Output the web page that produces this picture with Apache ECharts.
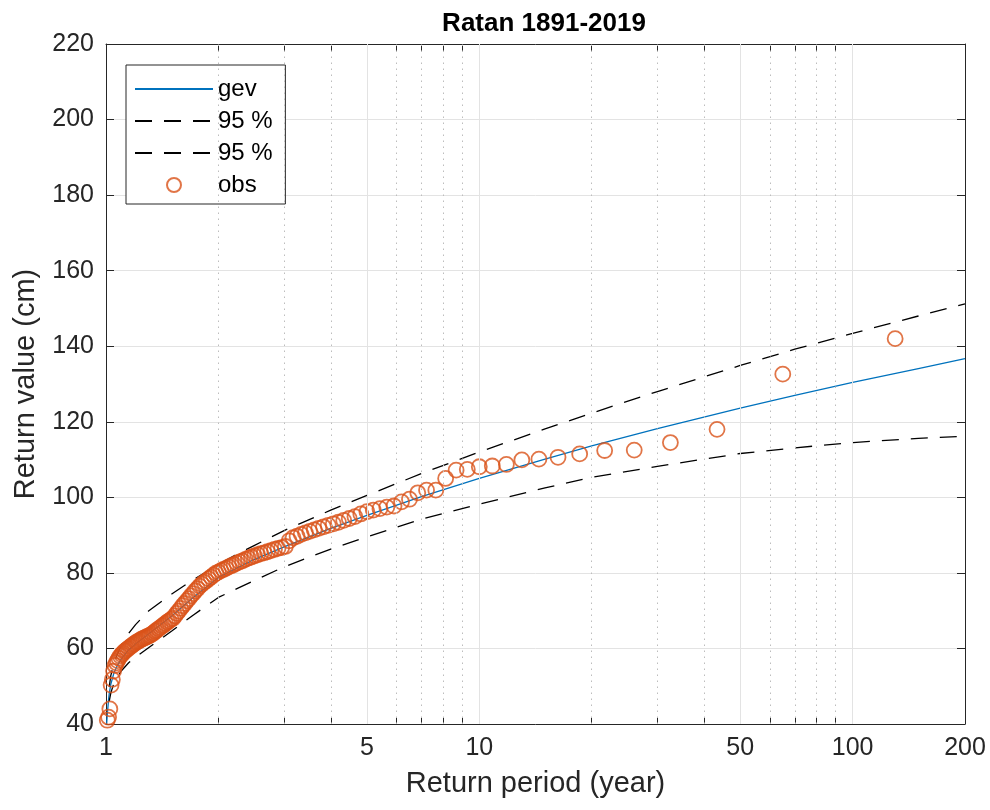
<!DOCTYPE html>
<html>
<head>
<meta charset="utf-8">
<title>Ratan 1891-2019</title>
<script src="https://cdn.jsdelivr.net/npm/echarts@6/dist/echarts.min.js"></script>
<style>
    html, body { margin: 0; padding: 0; background: #fff; }
    #box01 { width: 990px; height: 810px; }
</style>
</head>
<body>
<div id="box01"></div>
<script>
// ---- data ----
var xLabelTicks = [1, 5, 10, 50, 100, 200];
var xAllTicks = [1, 2, 3, 4, 5, 6, 7, 8, 9, 10, 20, 30, 40, 50, 60, 70, 80, 90, 100, 200];
var xMajorGrid = [5, 10, 50, 100];
var xMinorGrid = [2, 3, 4, 6, 7, 8, 9, 20, 30, 40, 60, 70, 80, 90];

// fitted gev curve and 95 % bounds (return period in years, value in cm)
var curvePeriod = [1.004, 1.008, 1.016, 1.02, 1.03, 1.05, 1.07, 1.1, 1.15, 1.2, 1.3, 1.5, 1.7, 2, 2.5, 3, 4, 5, 7, 10, 15, 20, 30, 50, 70, 100, 150, 200];
var gevValue   = [40.0, 42.5, 46.5, 48.0, 50.5, 53.5, 55.3, 57.3, 59.6, 61.2, 63.8, 68.6, 73.2, 78.8, 83.6, 86.9, 91.8, 95.2, 100.2, 105.0, 110.1, 113.6, 118.2, 123.6, 127.0, 130.4, 134.1, 136.7];
var bandPeriod = [1.02, 1.03, 1.05, 1.07, 1.1, 1.15, 1.2, 1.3, 1.5, 1.7, 2, 2.25, 2.5, 3, 4, 5, 7, 10, 15, 20, 30, 50, 70, 100, 150, 200];
var upperValue = [49.8, 52.8, 56.1, 58.3, 60.9, 64.0, 66.3, 69.9, 74.4, 78.0, 82.2, 85.0, 87.3, 91.2, 96.6, 100.5, 106.3, 112.0, 118.1, 122.3, 128.0, 134.9, 139.2, 143.4, 148.0, 151.2];
var lowerValue = [46.0, 48.2, 50.8, 52.3, 54.1, 56.2, 57.7, 60.2, 64.6, 68.6, 73.5, 75.9, 78.0, 81.6, 86.3, 89.5, 94.2, 98.2, 102.5, 105.3, 108.2, 111.6, 113.1, 114.5, 115.6, 116.2];

// observed annual maxima, largest first, with their plotting-position return periods
var obsPeriod = [130, 65, 43.333, 32.5, 26, 21.667, 18.571, 16.25, 14.444, 13, 11.818, 10.833, 10, 9.286, 8.667, 8.125, 7.647, 7.222, 6.842, 6.5,
    6.19, 5.909, 5.652, 5.417, 5.2, 5, 4.815, 4.643, 4.483, 4.333, 4.194, 4.063, 3.939, 3.824, 3.714, 3.611, 3.514, 3.421, 3.333, 3.25,
    3.171, 3.095, 3.023, 2.955, 2.889, 2.826, 2.766, 2.708, 2.653, 2.6, 2.549, 2.5, 2.453, 2.407, 2.364, 2.321, 2.281, 2.241, 2.203, 2.167,
    2.131, 2.097, 2.063, 2.031, 2, 1.97, 1.94, 1.912, 1.884, 1.857, 1.831, 1.806, 1.781, 1.757, 1.733, 1.711, 1.688, 1.667, 1.646, 1.625,
    1.605, 1.585, 1.566, 1.548, 1.529, 1.512, 1.494, 1.477, 1.461, 1.444, 1.429, 1.413, 1.398, 1.383, 1.368, 1.354, 1.34, 1.327, 1.313, 1.3,
    1.287, 1.275, 1.262, 1.25, 1.238, 1.226, 1.215, 1.204, 1.193, 1.182, 1.171, 1.161, 1.15, 1.14, 1.13, 1.121, 1.111, 1.102, 1.092, 1.083,
    1.074, 1.066, 1.057, 1.048, 1.04, 1.032, 1.024, 1.016, 1.008];
var obsValue = [142.0, 132.6, 118.0, 114.5, 112.5, 112.4, 111.5, 110.6, 110.1, 109.9, 108.7, 108.3, 108.1, 107.4, 107.2, 105.0, 101.9, 101.9, 101.2, 99.5,
    98.8, 97.7, 97.4, 97.0, 96.6, 96.2, 95.6, 94.9, 94.4, 93.9, 93.4, 93.0, 92.6, 92.2, 91.8, 91.4, 91.0, 90.6, 90.2, 89.7,
    89.3, 88.5, 87.0, 86.7, 86.5, 86.2, 85.9, 85.6, 85.3, 85.1, 84.8, 84.5, 84.2, 83.9, 83.6, 83.2, 82.9, 82.6, 82.2, 81.9,
    81.6, 81.2, 80.9, 80.6, 80.2, 79.9, 79.4, 78.9, 78.4, 77.9, 77.5, 77.0, 76.5, 75.8, 75.2, 74.5, 73.9, 73.2, 72.6, 71.9,
    71.3, 70.6, 69.9, 69.3, 68.6, 68.0, 67.7, 67.3, 67.0, 66.6, 66.2, 65.9, 65.5, 65.2, 64.8, 64.5, 64.1, 63.8, 63.5, 63.3,
    63.1, 62.9, 62.7, 62.5, 62.3, 62.0, 61.8, 61.6, 61.3, 61.0, 60.7, 60.4, 60.1, 59.8, 59.5, 59.2, 58.8, 58.4, 58.0, 57.4,
    56.8, 56.2, 55.5, 54.0, 51.8, 50.3, 44.0, 41.8, 41.0];

function pairs(xs, ys) {
    var out = [];
    for (var i = 0; i < xs.length; i++) {
        out.push([xs[i], ys[i]]);
    }
    return out;
}

var FONT = 'Liberation Sans, Arial, sans-serif';
var AXIS_COLOR = '#262626';

var myChart = echarts.init(document.getElementById('box01'), null, { renderer: 'canvas' });

// grid lines for the log axis, placed through the x scale with markLine
var gridLines = [];
xMinorGrid.forEach(function (v) {
    gridLines.push({ xAxis: v, lineStyle: { type: [1.5, 4.5], color: '#BDBDBD', width: 1 } });
});
xMajorGrid.forEach(function (v) {
    gridLines.push({ xAxis: v, lineStyle: { type: 'solid', color: '#E3E3E3', width: 1 } });
});

var xBase = {
    type: 'log',
    logBase: 10,
    min: 1,
    max: 200,
    axisLine: { show: true, lineStyle: { color: AXIS_COLOR, width: 1 } },
    splitLine: { show: false },
    minorTick: { show: false }
};

var yBase = {
    type: 'value',
    min: 40,
    max: 220,
    interval: 20,
    axisLine: { show: true, lineStyle: { color: AXIS_COLOR, width: 1 } },
    axisTick: { show: true, inside: true, length: 8, lineStyle: { color: AXIS_COLOR } }
};

var option = {
    backgroundColor: '#ffffff',
    animation: false,
    title: {
        text: 'Ratan 1891-2019',
        left: 539,
        top: 6,
        textAlign: 'center',
        textStyle: { fontFamily: FONT, fontSize: 26, fontWeight: 'bold', color: '#000' }
    },
    grid: { left: 106, right: 25, top: 44, bottom: 86, containLabel: false },
    legend: {
        data: ['gev', '95 %', '95 % ', 'obs'],
        orient: 'vertical',
        left: 126,
        top: 65,
        itemWidth: 78,
        itemHeight: 14,
        itemGap: 8,
        padding: [12, 6, 7, 8],
        borderColor: AXIS_COLOR,
        borderWidth: 1,
        backgroundColor: '#fff',
        selectedMode: false,
        textStyle: { fontFamily: FONT, fontSize: 24, color: '#000' }
    },
    xAxis: [
        Object.assign({}, xBase, {
            position: 'bottom',
            name: 'Return period (year)',
            nameLocation: 'middle',
            nameGap: 45,
            nameTextStyle: { fontFamily: FONT, fontSize: 29, color: AXIS_COLOR },
            axisTick: { show: true, inside: true, length: 7, customValues: xAllTicks, lineStyle: { color: AXIS_COLOR } },
            axisLabel: { show: true, margin: 12, customValues: xLabelTicks, fontFamily: FONT, fontSize: 25, color: AXIS_COLOR }
        }),
        Object.assign({}, xBase, {
            position: 'top',
            axisTick: { show: true, inside: true, length: 7, customValues: xAllTicks, lineStyle: { color: AXIS_COLOR } },
            axisLabel: { show: false }
        })
    ],
    yAxis: [
        Object.assign({}, yBase, {
            position: 'left',
            name: 'Return value (cm)',
            nameLocation: 'middle',
            nameGap: 66,
            nameTextStyle: { fontFamily: FONT, fontSize: 29, color: AXIS_COLOR },
            splitLine: { show: true, lineStyle: { color: '#E3E3E3', width: 1 } },
            axisLabel: { margin: 12, fontFamily: FONT, fontSize: 25, color: AXIS_COLOR }
        }),
        Object.assign({}, yBase, {
            position: 'right',
            splitLine: { show: false },
            axisLabel: { show: false }
        })
    ],
    series: [
        {
            name: 'grid',
            type: 'line',
            xAxisIndex: 0,
            yAxisIndex: 0,
            data: [],
            z: 1,
            silent: true,
            markLine: {
                silent: true,
                symbol: ['none', 'none'],
                label: { show: false },
                data: gridLines
            }
        },
        {
            name: 'gev',
            type: 'line',
            xAxisIndex: 0,
            yAxisIndex: 0,
            data: pairs(curvePeriod, gevValue),
            showSymbol: false,
            symbol: 'none',
            clip: true,
            z: 3,
            lineStyle: { color: '#0072BD', width: 1.3 },
            itemStyle: { color: '#0072BD', opacity: 0 }
        },
        {
            name: '95 %',
            type: 'line',
            xAxisIndex: 0,
            yAxisIndex: 0,
            data: pairs(bandPeriod, upperValue),
            showSymbol: false,
            symbol: 'none',
            clip: true,
            z: 3,
            lineStyle: { color: '#000', width: 1.3, type: [17, 12] },
            itemStyle: { color: '#000', opacity: 0 }
        },
        {
            name: '95 % ',
            type: 'line',
            xAxisIndex: 0,
            yAxisIndex: 0,
            data: pairs(bandPeriod, lowerValue),
            showSymbol: false,
            symbol: 'none',
            clip: true,
            z: 3,
            lineStyle: { color: '#000', width: 1.3, type: [17, 12] },
            itemStyle: { color: '#000', opacity: 0 }
        },
        {
            name: 'obs',
            type: 'scatter',
            xAxisIndex: 0,
            yAxisIndex: 0,
            data: pairs(obsPeriod, obsValue),
            symbol: 'circle',
            symbolSize: 15,
            z: 4,
            itemStyle: { color: 'rgba(0,0,0,0)', borderColor: '#D95319', borderWidth: 1.8 }
        }
    ]
};

myChart.setOption(option);
</script>
</body>
</html>
